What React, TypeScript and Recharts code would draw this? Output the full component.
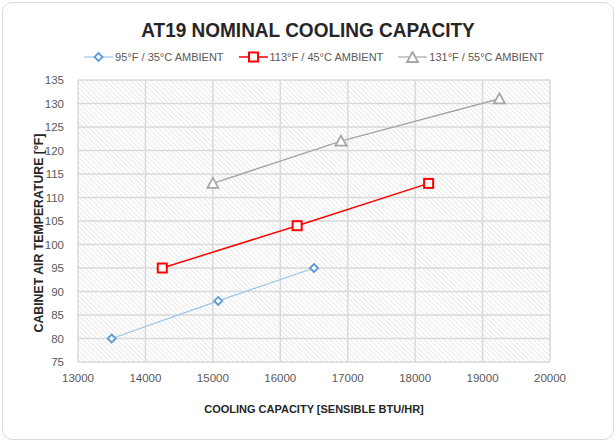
import { LineChart, Line, XAxis, YAxis, CartesianGrid, Label } from 'recharts'

const xTicks = [13000, 14000, 15000, 16000, 17000, 18000, 19000, 20000]
const yTicks = [75, 80, 85, 90, 95, 100, 105, 110, 115, 120, 125, 130, 135]

const capacity35 = [13500, 15080, 16500]
const temp35 = [80, 88, 95]
const capacity45 = [14250, 16250, 18200]
const temp45 = [95, 104, 113]
const capacity55 = [15000, 16900, 19250]
const temp55 = [113, 122, 131]

const seriesNames = ['95°F / 35°C AMBIENT', '113°F / 45°C AMBIENT', '131°F / 55°C AMBIENT']

const toRows = (xs: number[], ys: number[]) => xs.map((x, i) => ({ x, y: ys[i] }))

const FONT = '"Liberation Sans Narrow", "Arial Narrow", "Liberation Sans", Arial, sans-serif'

function Diamond({ cx, cy }: any) {
  const r = 4
  return <path d={`M${cx},${cy - r}L${cx + r},${cy}L${cx},${cy + r}L${cx - r},${cy}Z`} fill="#fff" stroke="#5b9bd5" strokeWidth={1.8} />
}

function Square({ cx, cy }: any) {
  const r = 4.5
  return <rect x={cx - r} y={cy - r} width={r * 2} height={r * 2} fill="#fff" stroke="#ff0000" strokeWidth={2} />
}

function Triangle({ cx, cy }: any) {
  return <path d={`M${cx},${cy - 5.5}L${cx + 5.5},${cy + 4.5}L${cx - 5.5},${cy + 4.5}Z`} fill="#fff" stroke="#a6a6a6" strokeWidth={1.8} />
}

function LegendItem({ kind, label }: { kind: number; label: string }) {
  const colors = ['#9dc3e6', '#ff0000', '#a6a6a6']
  return (
    <div style={{ display: 'flex', alignItems: 'center', gap: 2 }}>
      <svg width={29} height={12}>
        <line x1={0} y1={6} x2={29} y2={6} stroke={colors[kind]} strokeWidth={kind === 1 ? 1.5 : 1.2} />
        {kind === 0 && <Diamond cx={14.5} cy={6} />}
        {kind === 1 && <Square cx={14.5} cy={6} />}
        {kind === 2 && <Triangle cx={14.5} cy={6.5} />}
      </svg>
      <span>{label}</span>
    </div>
  )
}

export default function App() {
  return (
    <div style={{ position: 'absolute', left: 0, top: 0, width: 616, height: 442, background: '#fff', fontFamily: FONT }}>
      <div style={{ position: 'absolute', left: 2, top: 2, width: 610, height: 436, border: '1px solid #d9d9d9', borderRadius: 10 }} />
      <div style={{ position: 'absolute', left: 0, top: 19, width: 616, textAlign: 'center', fontSize: 20, fontWeight: 'bold', color: '#262626', transform: 'scaleX(0.95)' }}>
        AT19 NOMINAL COOLING CAPACITY
      </div>
      <div style={{ position: 'absolute', left: 6, top: 51, width: 616, display: 'flex', justifyContent: 'center', gap: 15, fontSize: 11, color: '#595959' }}>
        {seriesNames.map((n, i) => <LegendItem key={n} kind={i} label={n} />)}
      </div>
      <LineChart width={616} height={442} margin={{ top: 80, right: 66, bottom: 50, left: 0 }} style={{ position: 'absolute', left: 0, top: 0 }}>
        <defs>
          <pattern id="hatch" width="3.5" height="3.5" patternUnits="userSpaceOnUse" patternTransform="rotate(-45)">
            <rect width="3.5" height="3.5" fill="#fff" />
            <line x1="0" y1="0" x2="0" y2="3.5" stroke="#d4d4d4" strokeWidth="1" />
          </pattern>
        </defs>
        <CartesianGrid fill="url(#hatch)" fillOpacity={1} stroke="#d9d9d9" strokeWidth={1.5} />
        <XAxis
          type="number"
          dataKey="x"
          domain={[13000, 20000]}
          ticks={xTicks}
          axisLine={false}
          tickLine={false}
          height={30}
          tick={{ fill: '#595959', fontSize: 11.5, fontFamily: FONT }}
          tickMargin={6}
        >
          <Label
            value="COOLING CAPACITY [SENSIBLE BTU/HR]"
            position="bottom"
            offset={13}
            style={{ fill: '#262626', fontSize: 11, fontWeight: 'bold', fontFamily: FONT }}
          />
        </XAxis>
        <YAxis
          type="number"
          dataKey="y"
          domain={[75, 135]}
          ticks={yTicks}
          axisLine={false}
          tickLine={false}
          width={78}
          tick={{ fill: '#595959', fontSize: 11.5, fontFamily: FONT }}
          tickMargin={8}
        >
          <Label
            content={() => (
              <text x={39} y={233} transform="rotate(-90 39 233)" textAnchor="middle" dominantBaseline="central" fill="#262626" fontSize={12.3} fontWeight="bold" fontFamily={FONT}>
                CABINET AIR TEMPERATURE  [°F]
              </text>
            )}
          />
        </YAxis>
        <Line data={toRows(capacity35, temp35)} dataKey="y" name={seriesNames[0]} stroke="#9dc3e6" strokeWidth={1.2} dot={<Diamond />} activeDot={false} isAnimationActive={false} />
        <Line data={toRows(capacity45, temp45)} dataKey="y" name={seriesNames[1]} stroke="#ff0000" strokeWidth={1.5} dot={<Square />} activeDot={false} isAnimationActive={false} />
        <Line data={toRows(capacity55, temp55)} dataKey="y" name={seriesNames[2]} stroke="#a6a6a6" strokeWidth={1.5} dot={<Triangle />} activeDot={false} isAnimationActive={false} />
      </LineChart>
    </div>
  )
}
